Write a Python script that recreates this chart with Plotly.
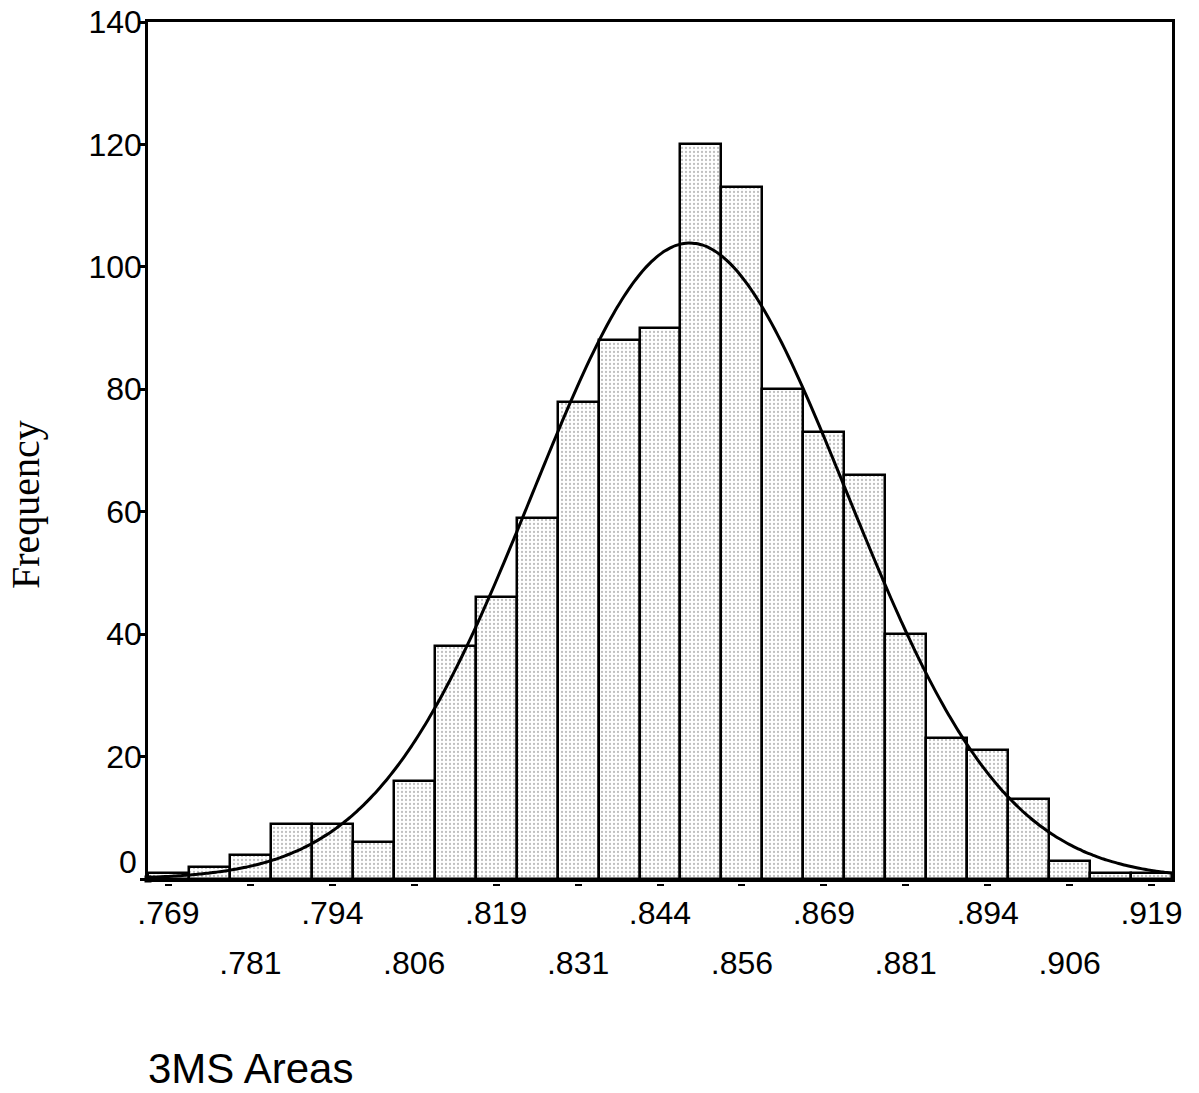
import numpy as np
import plotly.graph_objects as go

# ---- data ----
bin_start = 0.76875          # centre of first bin
bin_width = 0.00625
counts = [1, 2, 4, 9, 9, 6, 16, 38, 46, 59, 78, 88, 90, 120, 113, 80, 73, 66, 40, 23, 21, 13, 3, 1, 1]
tick_labels = [".769", ".781", ".794", ".806", ".819", ".831", ".844",
               ".856", ".869", ".881", ".894", ".906", ".919"]
y_ticks = [0, 20, 40, 60, 80, 100, 120, 140]
fit_mean = 0.8483
fit_sd = 0.0240

n_bins = len(counts)
centers = [bin_start + i * bin_width for i in range(n_bins)]
tick_vals = [bin_start + 2 * i * bin_width for i in range(len(tick_labels))]
x_min = bin_start - bin_width / 2
x_max = bin_start + (n_bins - 0.5) * bin_width

n_total = sum(counts)
xc = np.linspace(x_min, x_max, 300)
yc = n_total * bin_width / (fit_sd * np.sqrt(2 * np.pi)) * np.exp(-0.5 * ((xc - fit_mean) / fit_sd) ** 2)

FONT = "Liberation Sans, Arial, sans-serif"

fig = go.Figure()
fig.add_trace(go.Bar(
    x=centers, y=counts, width=bin_width,
    marker=dict(color="white", line=dict(color="black", width=2.5),
                pattern=dict(shape=".", size=4, solidity=0.25, fgcolor="#808080", bgcolor="white")),
    showlegend=False, hoverinfo="skip",
))
fig.add_trace(go.Scatter(
    x=xc, y=yc, mode="lines", line=dict(color="black", width=3, shape="spline"),
    showlegend=False, hoverinfo="skip",
))
fig.add_trace(go.Scatter(
    x=[x_min], y=[0], mode="markers", marker=dict(symbol="square", size=7, color="black"),
    cliponaxis=False, showlegend=False, hoverinfo="skip",
))

upper_text = [t if i % 2 == 0 else "" for i, t in enumerate(tick_labels)]
lower_text = [t if i % 2 == 1 else "" for i, t in enumerate(tick_labels)]

fig.update_layout(
    width=1199, height=1093,
    margin=dict(l=148, r=27, t=22, b=210),
    paper_bgcolor="white", plot_bgcolor="white",
    bargap=0,
    font=dict(family=FONT, size=32, color="black"),
    xaxis=dict(range=[x_min, x_max], showgrid=False, zeroline=False,
               showline=True, linecolor="black", linewidth=2.5, mirror=True,
               ticks="", showticklabels=False, anchor="y", automargin=False),
    xaxis2=dict(range=[x_min, x_max], overlaying="x", anchor="free", position=0,
                showgrid=False, zeroline=False, showline=False, automargin=False,
                tickmode="array", tickvals=tick_vals, ticktext=upper_text,
                ticks="outside", ticklen=2, tickwidth=7, tickcolor="black",
                tickfont=dict(family=FONT, size=32, color="black")),
    xaxis3=dict(range=[x_min, x_max], overlaying="x", anchor="free", position=0,
                showgrid=False, zeroline=False, showline=False, automargin=False,
                tickmode="array", tickvals=tick_vals, ticktext=lower_text,
                ticks="", ticklabelstandoff=58,
                tickfont=dict(family=FONT, size=32, color="black")),
    yaxis=dict(range=[0, 140], domain=[4 / 861, 1], showgrid=False, zeroline=False,
               showline=True, linecolor="black", linewidth=2.5, mirror=True, automargin=False,
               tickmode="array", tickvals=y_ticks,
               ticktext=["" if v == 0 else str(v) for v in y_ticks],
               ticks="outside", ticklen=5, tickwidth=3, tickcolor="black",
               ticklabelstandoff=-8,
               tickfont=dict(family=FONT, size=32, color="black")),
    annotations=[
        dict(text="0", xref="paper", yref="y", x=-9 / 1024, y=0, yshift=17,
             xanchor="right", yanchor="middle", showarrow=False,
             font=dict(family=FONT, size=32, color="black")),
        dict(text="Frequency", xref="paper", yref="paper", x=-123 / 1024, y=0.439,
             xanchor="center", yanchor="middle", textangle=-90, showarrow=False,
             font=dict(family="Liberation Serif, Times New Roman, serif", size=40, color="black")),
        dict(text="3MS Areas", xref="paper", yref="paper", x=-2 / 1024, y=-185 / 861,
             xanchor="left", yanchor="middle", showarrow=False,
             font=dict(family=FONT, size=42, color="black")),
    ],
)
# dummy traces so overlay axes are drawn
fig.add_trace(go.Scatter(x=[x_min], y=[None], xaxis="x2", showlegend=False, hoverinfo="skip"))
fig.add_trace(go.Scatter(x=[x_min], y=[None], xaxis="x3", showlegend=False, hoverinfo="skip"))

fig.write_html("out.html")
